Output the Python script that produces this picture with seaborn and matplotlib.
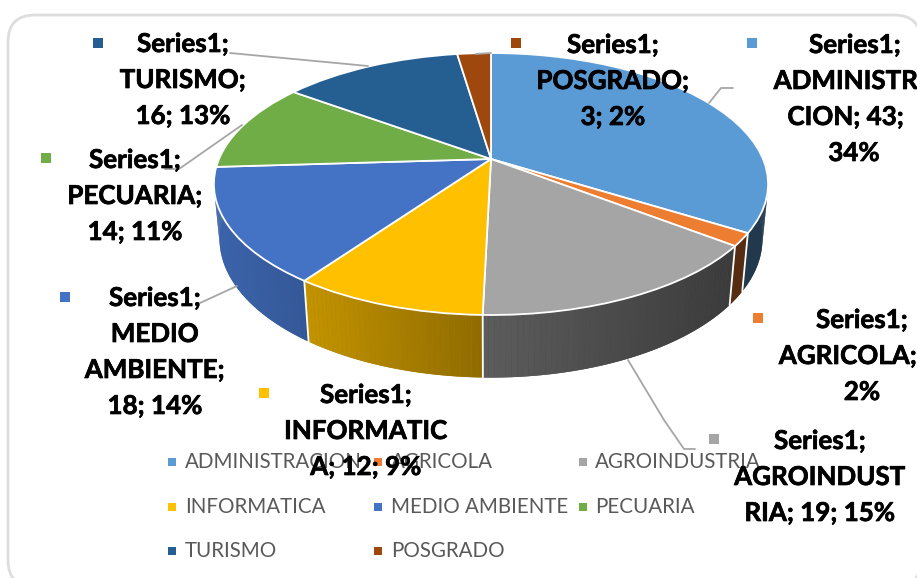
import numpy as np
import seaborn as sns
from matplotlib import pyplot as plt
from matplotlib import patheffects as pe
from matplotlib.patches import FancyBboxPatch
from matplotlib.transforms import Transform

sns.set_theme(style='white')
plt.rcParams['font.family'] = ['Lato', 'DejaVu Sans']

categories = ['ADMINISTRACION', 'AGRICOLA', 'AGROINDUSTRIA', 'INFORMATICA',
              'MEDIO AMBIENTE', 'PECUARIA', 'TURISMO', 'POSGRADO']
values = [43, 2, 19, 12, 18, 14, 16, 3]
colors = ['#5B9BD5', '#ED7D31', '#A5A5A5', '#FFC000',
          '#4472C4', '#70AD47', '#255E91', '#9E480E']
palette = sns.color_palette(colors)

label_lines = [
    ['Series1;', 'ADMINISTR', 'CION; 43;', '34%'],
    ['Series1;', 'AGRICOLA;', '2%'],
    ['Series1;', 'AGROINDUST', 'RIA; 19; 15%'],
    ['Series1;', 'INFORMATIC', 'A; 12; 9%'],
    ['Series1;', 'MEDIO', 'AMBIENTE;', '18; 14%'],
    ['Series1;', 'PECUARIA;', '14; 11%'],
    ['Series1;', 'TURISMO;', '16; 13%'],
    ['Series1;', 'POSGRADO;', '3; 2%'],
]

# pixel layout of the labels: x of each line, y of first line, key position
label_x = [[855, 846, 846, 854], [862, 848, 862], [820, 820, 820], [366, 366, 366],
           [155, 155, 155, 155], [135, 135, 135], [183, 183, 183], [613, 613, 613]]
label_y = [45, 320, 441, 395, 298, 160, 44, 45]
key_pos = [(752, 43), (758, 318), (714, 439), (264, 393),
           (65, 297), (46, 158), (98, 43), (516, 43)]

leaders = [
    [(709, 103), (721, 88), (733, 88)],
    [(628, 360), (664, 420), (684, 449), (695, 449)],
    [(200, 303), (237, 286)],
    [(165, 169), (179, 169), (242, 125)],
    [(230, 53), (368, 66)],
    [(476, 54), (491, 53)],
]

CX, CY = 491, 159
A, B, K = 272, 126.2, 0.191   # top face perspective
C, D = 55, 0.02               # depth of the bottom face


def top_rim(x, y):
    w = 1 + K * y
    return CX + A * x / w, CY - B * y / w


def bottom_rim(x, y):
    w = 1 + K * y + D
    return CX + A * x / w, CY + (C - B * y) / w


def wall_shade(color, x):
    f = np.interp(x, [214, 309, 483, 730], [0.88, 0.76, 0.56, 0.36])
    return tuple(c * f for c in color)


class Tilt(Transform):
    input_dims = 2
    output_dims = 2

    def transform_non_affine(self, values):
        xs, ys = top_rim(values[:, 0], values[:, 1])
        return np.column_stack([xs, ys])


fig = plt.figure(figsize=(9.17, 5.78), dpi=100)
ax = fig.add_axes([0, 0, 1, 1])

wedges, _ = ax.pie(values, colors=palette, startangle=90, counterclock=False,
                   wedgeprops={'edgecolor': 'white', 'linewidth': 1.3, 'zorder': 3})
ax.set_aspect('auto')
ax.set_xlim(0, 917)
ax.set_ylim(578, 0)
ax.set_axis_off()

tilt = Tilt()
for w in wedges:
    w.set_transform(tilt + ax.transData)

ax.add_patch(FancyBboxPatch((8, 15), 913, 572, boxstyle='round,pad=0,rounding_size=27',
                            facecolor='white', edgecolor='#DDDDDD', linewidth=2, zorder=0))

# side wall: one solid piece per slice, then narrow shaded strips on top
edges = np.concatenate([[0], np.cumsum(values)]) / sum(values) * 360
for i, color in enumerate(palette):
    lo, hi = max(edges[i], 60), min(edges[i + 1], 300)
    if lo >= hi:
        continue
    th = np.radians(np.linspace(lo, hi, int(hi - lo) + 2))
    xt, yt = top_rim(np.sin(th), np.cos(th))
    xb, yb = bottom_rim(np.sin(th[::-1]), np.cos(th[::-1]))
    ax.fill(np.r_[xt, xb], np.r_[yt, yb], color=wall_shade(color, xt.mean()),
            linewidth=0, zorder=1)
    for j in range(len(th) - 1):
        pair = th[j:j + 2]
        xt, yt = top_rim(np.sin(pair), np.cos(pair))
        xb, yb = bottom_rim(np.sin(pair[::-1]), np.cos(pair[::-1]))
        ax.fill(np.r_[xt, xb], np.r_[yt, yb], color=wall_shade(color, xt.mean()),
                linewidth=0, zorder=1.5)

for deg in edges[1:]:
    a = np.radians(deg)
    if np.cos(a) < -0.2:
        xt, yt = top_rim(np.sin(a), np.cos(a))
        xb, yb = bottom_rim(np.sin(a), np.cos(a))
        ax.plot([xt, xb], [yt, yb], color='white', linewidth=1.3, zorder=2)

for pts in leaders:
    ax.plot(*zip(*pts), color='#A6A6A6', linewidth=1.3, zorder=4)

# legend, three columns
legend_cols = [(172, 185), (378, 391), (583, 595)]
legend_rows = [462, 507, 551]
for i, name in enumerate(categories):
    kx, tx = legend_cols[i % 3]
    y = legend_rows[i // 3]
    ax.scatter([kx], [y], marker='s', s=30, color=palette[i], linewidths=0, zorder=5)
    ax.text(tx, y, name, color='#595959', fontsize=14.8, va='center', ha='left', zorder=5)

# data labels sit on top of everything, also over the legend
heavy = [pe.withStroke(linewidth=0.5, foreground='black')]
for i, lines in enumerate(label_lines):
    ax.scatter(*key_pos[i], marker='s', s=62, color=palette[i], linewidths=0, zorder=6)
    for j, line in enumerate(lines):
        ax.text(label_x[i][j], label_y[i] + j * 36, line, fontsize=18.7, fontweight='bold',
                color='black', ha='center', va='center', zorder=7, path_effects=heavy)

fig.savefig('out.png', dpi=100)
